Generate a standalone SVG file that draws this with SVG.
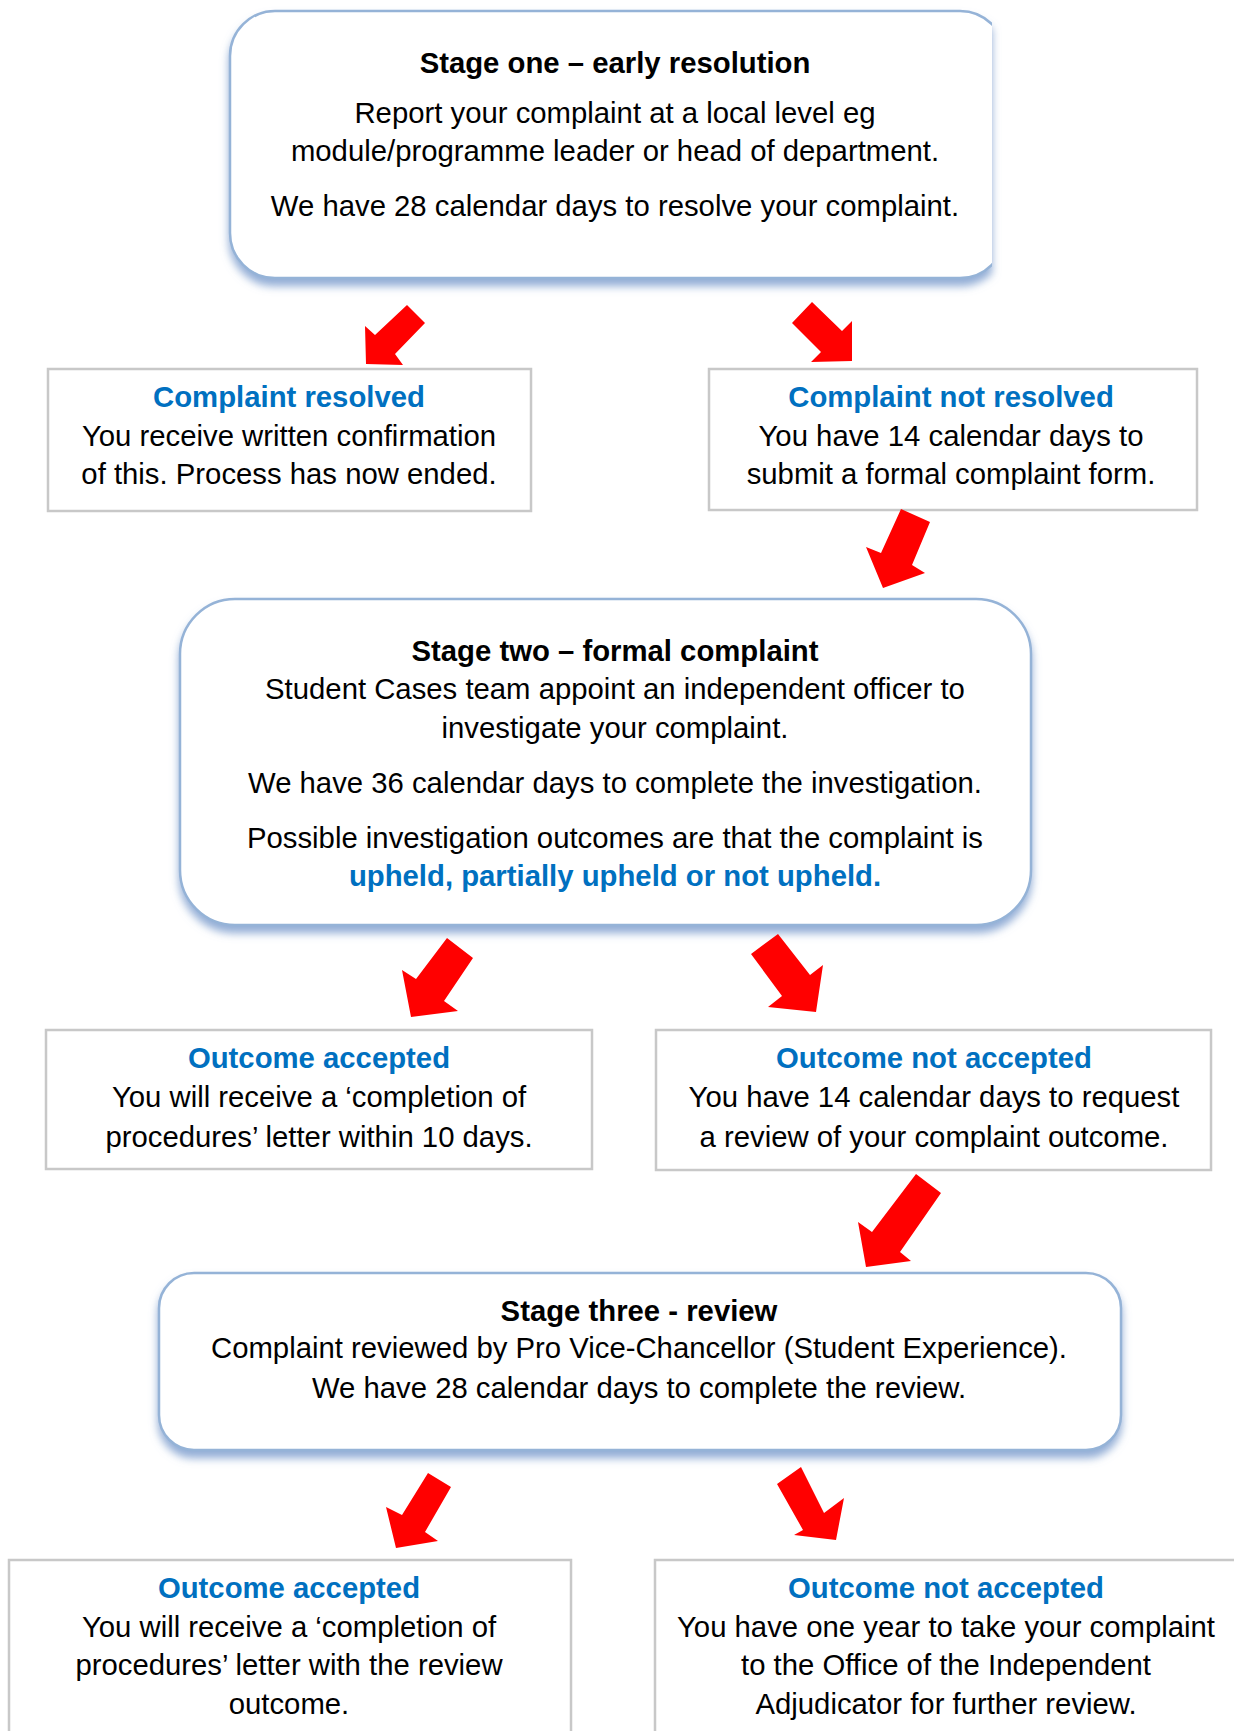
<svg xmlns="http://www.w3.org/2000/svg" width="1234" height="1731" viewBox="0 0 1234 1731">
<style>
.t{font-family:"Liberation Sans",Arial,sans-serif;font-size:29.3px;fill:#000;text-anchor:middle}
.b{font-weight:bold}
.h{font-weight:bold;fill:#0070c0}
.arr{fill:#ff0000}
.box{fill:#fff;stroke:#c8c8c8;stroke-width:2.5}
.stage{fill:#fff;stroke:#95b3d7;stroke-width:2.5}
</style>
<defs>
<filter id="sh" x="-5%" y="-10%" width="110%" height="130%">
<feDropShadow dx="0" dy="7" stdDeviation="4" flood-color="#7f9fcf" flood-opacity="0.85"/>
</filter>
<clipPath id="clipTop"><rect x="0" y="0" width="992" height="400"/></clipPath>
</defs>
<rect width="1234" height="1731" fill="#fff"/>

<g id="stage-one">
<g filter="url(#sh)"><rect class="stage" x="230" y="11" width="775" height="267" rx="45" clip-path="url(#clipTop)"/></g>
<text class="t b" x="615" y="73">Stage one – early resolution</text>
<text class="t" x="615" y="123">Report your complaint at a local level eg</text>
<text class="t" x="615" y="161">module/programme leader or head of department.</text>
<text class="t" x="615" y="216">We have 28 calendar days to resolve your complaint.</text>
</g>

<g id="complaint-resolved">
<rect class="box" x="48" y="369" width="483" height="142"/>
<text class="t h" x="289" y="407">Complaint resolved</text>
<text class="t" x="289" y="446">You receive written confirmation</text>
<text class="t" x="289" y="484">of this. Process has now ended.</text>
</g>

<g id="complaint-not-resolved">
<rect class="box" x="709" y="369" width="488" height="141"/>
<text class="t h" x="951" y="407">Complaint not resolved</text>
<text class="t" x="951" y="446">You have 14 calendar days to</text>
<text class="t" x="951" y="484">submit a formal complaint form.</text>
</g>

<g id="stage-two">
<g filter="url(#sh)"><rect class="stage" x="180" y="599" width="851" height="326" rx="55"/></g>
<text class="t b" x="615" y="661">Stage two – formal complaint</text>
<text class="t" x="615" y="699">Student Cases team appoint an independent officer to</text>
<text class="t" x="615" y="738">investigate your complaint.</text>
<text class="t" x="615" y="793">We have 36 calendar days to complete the investigation.</text>
<text class="t" x="615" y="848">Possible investigation outcomes are that the complaint is</text>
<text class="t h" x="615" y="886">upheld, partially upheld or not upheld.</text>
</g>

<g id="outcome-accepted-1">
<rect class="box" x="46" y="1030" width="546" height="139"/>
<text class="t h" x="319" y="1068">Outcome accepted</text>
<text class="t" x="319" y="1107">You will receive a ‘completion of</text>
<text class="t" x="319" y="1147">procedures’ letter within 10 days.</text>
</g>

<g id="outcome-not-accepted-1">
<rect class="box" x="656" y="1030" width="555" height="140"/>
<text class="t h" x="934" y="1068">Outcome not accepted</text>
<text class="t" x="934" y="1107">You have 14 calendar days to request</text>
<text class="t" x="934" y="1147">a review of your complaint outcome.</text>
</g>

<g id="stage-three">
<g filter="url(#sh)"><rect class="stage" x="159" y="1273" width="962" height="177" rx="35"/></g>
<text class="t b" x="639" y="1321">Stage three - review</text>
<text class="t" x="639" y="1358">Complaint reviewed by Pro Vice-Chancellor (Student Experience).</text>
<text class="t" x="639" y="1398">We have 28 calendar days to complete the review.</text>
</g>

<g id="outcome-accepted-2">
<rect class="box" x="9" y="1560" width="562" height="200"/>
<text class="t h" x="289" y="1598">Outcome accepted</text>
<text class="t" x="289" y="1637">You will receive a ‘completion of</text>
<text class="t" x="289" y="1675">procedures’ letter with the review</text>
<text class="t" x="289" y="1714">outcome.</text>
</g>

<g id="outcome-not-accepted-2">
<rect class="box" x="655" y="1560" width="600" height="200"/>
<text class="t h" x="946" y="1598">Outcome not accepted</text>
<text class="t" x="946" y="1637">You have one year to take your complaint</text>
<text class="t" x="946" y="1675">to the Office of the Independent</text>
<text class="t" x="946" y="1714">Adjudicator for further review.</text>
</g>

<g id="connectors">
<polygon class="arr" points="407,305 425,323 395,354 403,365 366,364 365,326 375,335"/>
<polygon class="arr" points="792,323 812,302 842,331 852,321 852,361 811,362 821,352"/>
<polygon class="arr" points="901,509 930,522 912,565 925,573 883,588 866,547 881,553"/>
<polygon class="arr" points="447,938 473,958 444,1001 458,1011 411,1017 402,970 416,979"/>
<polygon class="arr" points="751,954 778,934 810,975 823,965 816,1012 768,1007 782,996"/>
<polygon class="arr" points="916,1174 941,1193 900,1252 911,1261 866,1267 858,1222 872,1232"/>
<polygon class="arr" points="428,1473 451,1487 425,1532 438,1541 396,1548 386,1507 402,1515"/>
<polygon class="arr" points="777,1484 801,1467 824,1513 844,1498 836,1540 794,1535 803,1530"/>
</g>
</svg>
